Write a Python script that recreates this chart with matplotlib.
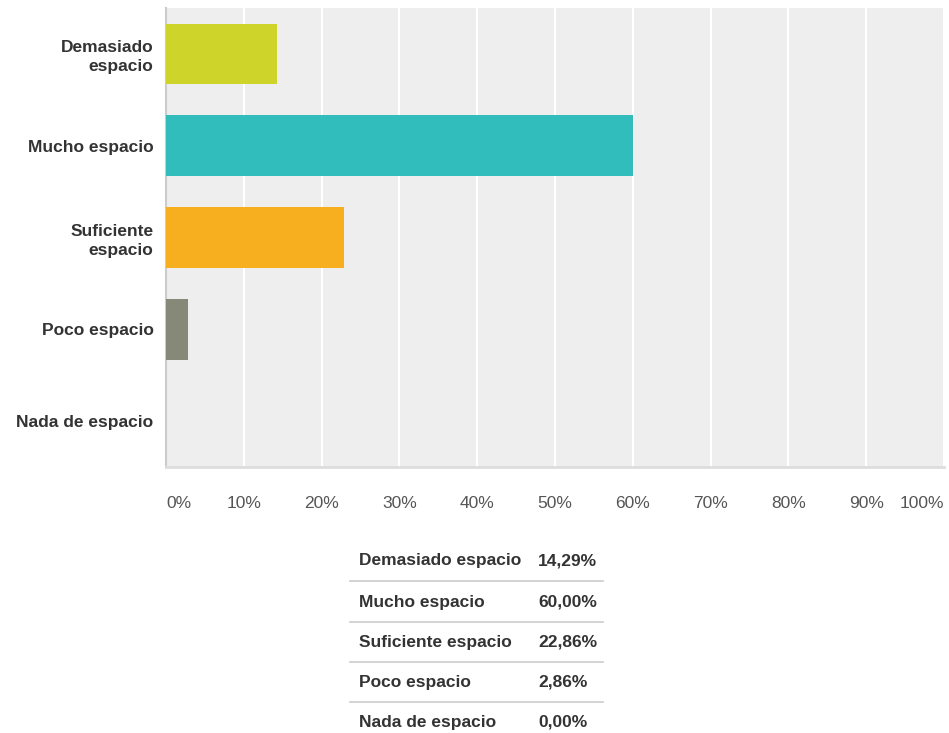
import matplotlib
matplotlib.use("Agg")
import matplotlib.pyplot as plt
from matplotlib.lines import Line2D

plt.rcParams['font.family'] = ['Liberation Sans', 'DejaVu Sans']

CATEGORIES = ["Demasiado\nespacio", "Mucho espacio", "Suficiente\nespacio",
              "Poco espacio", "Nada de espacio"]
TABLE_NAMES = ["Demasiado espacio", "Mucho espacio", "Suficiente espacio",
               "Poco espacio", "Nada de espacio"]
PERCENTS = [14.29, 60.00, 22.86, 2.86, 0.00]
COLORS = ["#cfd42a", "#32bdbd", "#f7ae1f", "#868977", "#b0b0b0"]
X_TICKS = list(range(0, 101, 10))

W, H = 949, 733
FS = 12.5
fig = plt.figure(figsize=(W / 100, H / 100), dpi=100)
ax = fig.add_axes([166 / W, 1 - 467 / H, 778 / W, 459 / H])

ypos = list(range(len(CATEGORIES)))
ax.barh(ypos, PERCENTS, height=0.66, color=COLORS, zorder=3)
ax.set_ylim(len(CATEGORIES) - 0.5, -0.5)
ax.set_xlim(0, 100)

ax.set_facecolor("#eeeeee")
ax.set_xticks(X_TICKS)
ax.grid(True, axis="x", color="white", linewidth=1.5, zorder=1)
ax.set_yticks(ypos)
ax.set_yticklabels(CATEGORIES, fontsize=FS, fontweight="bold", color="#333333",
                   ha="right", linespacing=1.3)
ax.tick_params(axis="y", length=0, pad=9)
ax.tick_params(axis="x", length=0, pad=21)
ax.set_xticklabels([f"{t}%" for t in X_TICKS], fontsize=FS, color="#555555")
lbls = ax.get_xticklabels()
lbls[0].set_ha("left")
lbls[-1].set_ha("right")

for side in ["top", "right"]:
    ax.spines[side].set_visible(False)
ax.spines["left"].set_color("#cccccc")
ax.spines["left"].set_linewidth(1.5)
ax.spines["bottom"].set_color("#dddddd")
ax.spines["bottom"].set_linewidth(2)

# summary table under the chart
row_y = [561, 602, 642, 682, 722]
for i, (name, pct) in enumerate(zip(TABLE_NAMES, PERCENTS)):
    y = 1 - row_y[i] / H
    fig.text(359 / W, y, name, fontsize=FS, fontweight="bold", color="#333333",
             va="center", ha="left")
    fig.text(538 / W, y, f"{pct:.2f}%".replace(".", ","), fontsize=FS,
             fontweight="bold", color="#333333", va="center", ha="left")
    if i < len(TABLE_NAMES) - 1:
        ly = 1 - (row_y[i] + 20) / H
        fig.add_artist(Line2D([350 / W, 603 / W], [ly, ly], color="#cccccc",
                              linewidth=1.2, transform=fig.transFigure))

fig.savefig("out.png", dpi=100)
